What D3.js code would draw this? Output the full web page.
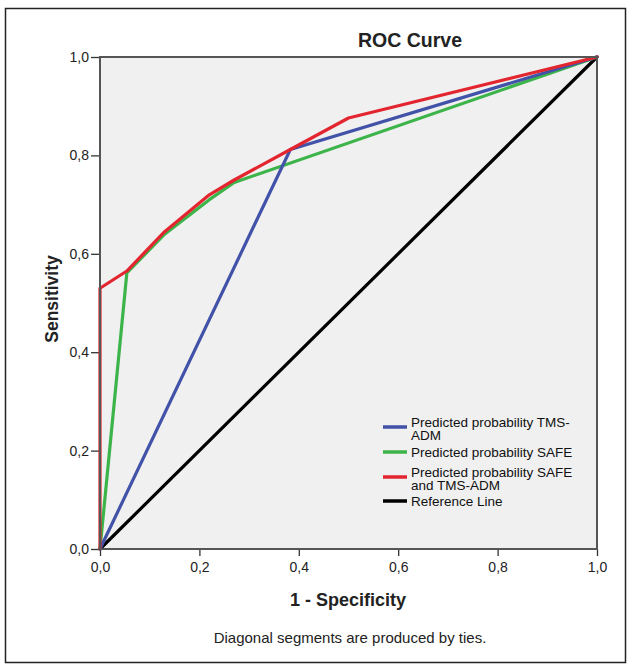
<!DOCTYPE html>
<html><head><meta charset="utf-8">
<script src="https://cdn.jsdelivr.net/npm/d3@7"></script>
<style>body{margin:0;background:#fff}svg{display:block}</style>
</head><body>
<script>
const title = "ROC Curve";
const xLabel = "1 - Specificity";
const yLabel = "Sensitivity";
const footnote = "Diagonal segments are produced by ties.";
const ticks = [0, 0.2, 0.4, 0.6, 0.8, 1.0];
const seriesNames = ["Predicted probability TMS-ADM", "Predicted probability SAFE", "Predicted probability SAFE and TMS-ADM", "Reference Line"];
const legendLines = [["Predicted probability TMS-", "ADM"], ["Predicted probability SAFE"], ["Predicted probability SAFE", "and TMS-ADM"], ["Reference Line"]];
const colors = ["#4152a8", "#3cb44a", "#e3252f", "#000000"];
const tmsAdm = [[0,0],[0.383,0.812],[1,1]];
const safe = [[0,0],[0.054,0.561],[0.13,0.64],[0.22,0.71],[0.27,0.745],[1,1]];
const safeTms = [[0,0],[0,0.53],[0.054,0.565],[0.13,0.645],[0.22,0.72],[0.27,0.75],[0.383,0.812],[0.5,0.876],[1,1]];
const refLine = [[0,0],[1,1]];
const series = [tmsAdm, safe, safeTms, refLine];

const W = 631, H = 670;
const svg = d3.select("body").append("svg").attr("width", W).attr("height", H);
svg.append("rect").attr("x",5.5).attr("y",8.5).attr("width",620).attr("height",654)
  .attr("fill","#fff").attr("stroke","#222").attr("stroke-width",1.5);

const x = d3.scaleLinear().domain([0,1]).range([100,597]);
const y = d3.scaleLinear().domain([0,1]).range([549,57]);

svg.append("rect").attr("x",100).attr("y",57).attr("width",497).attr("height",492)
  .attr("fill","#f0f0f0");

const fmt = d => d3.format(".1f")(d).replace(".", ",");
const font = "Arial, 'Liberation Sans', sans-serif";

const gx = svg.append("g").attr("transform","translate(0,549)")
  .call(d3.axisBottom(x).tickValues(ticks).tickFormat(fmt).tickSize(7).tickPadding(3).tickSizeOuter(0));
const gy = svg.append("g").attr("transform","translate(100,0)")
  .call(d3.axisLeft(y).tickValues(ticks).tickFormat(fmt).tickSize(9).tickPadding(2).tickSizeOuter(0));
[gx, gy].forEach(g => {
  g.select(".domain").remove();
  g.selectAll("line").attr("stroke","#333").attr("stroke-width",1.3);
  g.selectAll("text").attr("font-family",font).attr("font-size",14).attr("fill","#222");
});
gx.selectAll("text").attr("dy","0.95em");

const line = d3.line().x(d => x(d[0])).y(d => y(d[1]));
[3,1,0,2].forEach(i => {
  svg.append("path").datum(series[i]).attr("d", line)
    .attr("fill","none").attr("stroke",colors[i]).attr("stroke-width",3.2)
    .attr("stroke-linejoin","round").attr("stroke-linecap","round");
});

svg.append("rect").attr("x",100).attr("y",57).attr("width",497).attr("height",492)
  .attr("fill","none").attr("stroke","#555").attr("stroke-width",2);

svg.append("text").attr("x",410).attr("y",47).attr("text-anchor","middle")
  .attr("font-family",font).attr("font-size",19.5).attr("font-weight","bold").attr("fill","#222").text(title);
svg.append("text").attr("x",348).attr("y",606).attr("text-anchor","middle")
  .attr("font-family",font).attr("font-size",18).attr("font-weight","bold").attr("fill","#222").text(xLabel);
svg.append("text").attr("transform","translate(58,299) rotate(-90)").attr("text-anchor","middle")
  .attr("font-family",font).attr("font-size",17.5).attr("font-weight","bold").attr("fill","#222").text(yLabel);
svg.append("text").attr("x",350).attr("y",643).attr("text-anchor","middle")
  .attr("font-family",font).attr("font-size",15).attr("fill","#222").text(footnote);

const legY = [427, 452, 477, 501];
const lg = svg.append("g");
legendLines.forEach((lines, i) => {
  lg.append("line").attr("x1",383).attr("x2",407).attr("y1",legY[i]).attr("y2",legY[i])
    .attr("stroke",colors[i]).attr("stroke-width",3.5);
  const t = lg.append("text").attr("x",411)
    .attr("y", lines.length === 1 ? legY[i] : legY[i] - 5)
    .attr("font-family",font).attr("font-size",13.5).attr("fill","#111");
  lines.forEach((s, j) => t.append("tspan").attr("x",411).attr("dy", j===0 ? "0.35em" : "13.5px").text(s));
});
</script>
</body></html>
